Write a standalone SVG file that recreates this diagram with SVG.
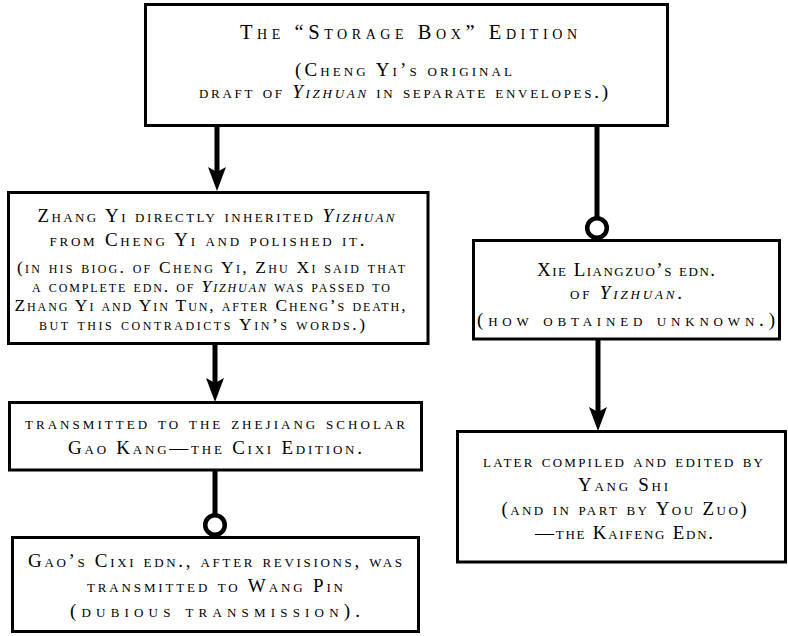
<svg xmlns="http://www.w3.org/2000/svg" width="788" height="636" viewBox="0 0 788 636">
<style>
  .box { fill: #fff; stroke: #000; stroke-width: 3; }
  text { font-family: "Liberation Serif", "Times New Roman", serif; font-variant: small-caps; fill: #000; text-anchor: middle; }
  .t1 { font-size: 20.5px; }
  .m { font-size: 19px; }
  .s { font-size: 17.5px; }
  .i { font-style: italic; }
  .con { stroke: #000; stroke-width: 5; fill: none; }
  .dot { stroke: #000; stroke-width: 4.5; fill: #fff; }
</style>
<defs>
  <marker id="arr" viewBox="0 0 24 20" markerWidth="24" markerHeight="20" markerUnits="userSpaceOnUse" refX="6" refY="10" orient="auto">
    <path d="M0,1 L24,10 L0,19 L5,10 z" fill="#000"/>
  </marker>
</defs>
<rect width="788" height="636" fill="#fff"/>

<g id="connectors">
  <line class="con" x1="217" y1="126" x2="217" y2="173" marker-end="url(#arr)"/>
  <line class="con" x1="597" y1="126" x2="597" y2="218"/>
  <circle class="dot" cx="597" cy="228" r="9.8"/>
  <line class="con" x1="215" y1="344" x2="215" y2="384" marker-end="url(#arr)"/>
  <line class="con" x1="215" y1="470" x2="215" y2="515"/>
  <circle class="dot" cx="215" cy="525" r="9.8"/>
  <line class="con" x1="598" y1="339" x2="598" y2="413" marker-end="url(#arr)"/>
</g>

<g id="storage-box">
  <rect class="box" x="145.5" y="4.5" width="522" height="121"/>
  <text class="t1" x="408.5" y="39" textLength="337" lengthAdjust="spacing">The “Storage Box” Edition</text>
  <text class="m" x="403.5" y="76" textLength="217" lengthAdjust="spacing">(Cheng Yi’s original</text>
  <text class="m" x="403.5" y="98" textLength="409" lengthAdjust="spacing">draft of <tspan class="i">Yizhuan</tspan> in separate envelopes.)</text>
</g>

<g id="zhang-yi">
  <rect class="box" x="8.5" y="192.5" width="419.5" height="151"/>
  <text class="m" x="216" y="222" textLength="357" lengthAdjust="spacing">Zhang Yi directly inherited <tspan class="i">Yizhuan</tspan></text>
  <text class="m" x="207" y="246" textLength="315" lengthAdjust="spacing">from Cheng Yi and polished it.</text>
  <text class="s" x="211" y="273" textLength="388" lengthAdjust="spacing">(in his biog. of Cheng Yi, Zhu Xi said that</text>
  <text class="s" x="211" y="292" textLength="358" lengthAdjust="spacing">a complete edn. of <tspan class="i">Yizhuan</tspan> was passed to</text>
  <text class="s" x="210" y="311" textLength="391" lengthAdjust="spacing">Zhang Yi and Yin Tun, after Cheng’s death,</text>
  <text class="s" x="202" y="330" textLength="326" lengthAdjust="spacing">but this contradicts Yin’s words.)</text>
</g>

<g id="xie-liangzuo">
  <rect class="box" x="473.5" y="240.5" width="306" height="98.5"/>
  <text class="m" x="626" y="276" textLength="178" lengthAdjust="spacing">Xie Liangzuo’s edn.</text>
  <text class="m" x="626" y="299" textLength="112" lengthAdjust="spacing">of <tspan class="i">Yizhuan</tspan>.</text>
  <text class="m" x="626" y="326" textLength="298" lengthAdjust="spacing">(how obtained unknown.)</text>
</g>

<g id="gao-kang">
  <rect class="box" x="9.5" y="402.5" width="412" height="67.5"/>
  <text class="m" x="215" y="429" textLength="380" lengthAdjust="spacing">transmitted to the zhejiang scholar</text>
  <text class="m" x="215" y="454" textLength="294" lengthAdjust="spacing">Gao Kang—the Cixi Edition.</text>
</g>

<g id="wang-pin">
  <rect class="box" x="12.5" y="537.5" width="406" height="94"/>
  <text class="m" x="215" y="567" textLength="374" lengthAdjust="spacing">Gao’s Cixi edn., after revisions, was</text>
  <text class="m" x="215" y="592" textLength="256" lengthAdjust="spacing">transmitted to Wang Pin</text>
  <text class="m" x="215" y="617" textLength="290" lengthAdjust="spacing">(dubious transmission).</text>
</g>

<g id="yang-shi">
  <rect class="box" x="457.5" y="431.5" width="328" height="130.5"/>
  <text class="m" x="623" y="467" textLength="280" lengthAdjust="spacing">later compiled and edited by</text>
  <text class="m" x="623" y="491" textLength="90" lengthAdjust="spacing">Yang Shi</text>
  <text class="m" x="624" y="515" textLength="245" lengthAdjust="spacing">(and in part by You Zuo)</text>
  <text class="m" x="624" y="539" textLength="178" lengthAdjust="spacing">—the Kaifeng Edn.</text>
</g>
</svg>
